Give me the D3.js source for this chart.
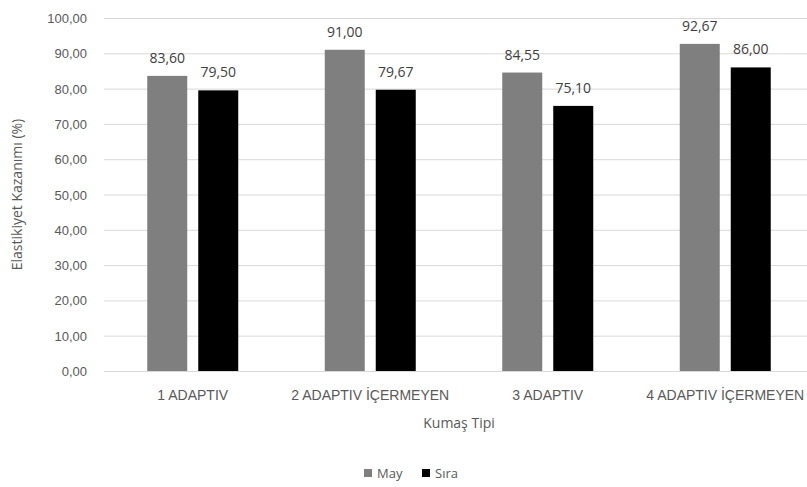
<!DOCTYPE html>
<html>
<head>
<meta charset="utf-8">
<script src="https://cdn.jsdelivr.net/npm/d3@7/dist/d3.min.js"></script>
<style>
  html, body { margin: 0; padding: 0; background: #fff; }
  svg { display: block; font-family: "Open Sans", "Liberation Sans", sans-serif; }
</style>
</head>
<body>
<svg id="chart" width="807" height="487"></svg>
<script>
// Kumaş tipine göre elastikiyet kazanımı
const categories = ["1 ADAPTIV", "2 ADAPTIV İÇERMEYEN", "3 ADAPTIV", "4 ADAPTIV İÇERMEYEN"];
const seriesNames = ["May", "Sıra"];
const mayValues = [83.60, 91.00, 84.55, 92.67];
const siraValues = [79.50, 79.67, 75.10, 86.00];
const yTicks = [0, 10, 20, 30, 40, 50, 60, 70, 80, 90, 100];
const colors = ["#7f7f7f", "#000000"];

const fmt = v => v.toFixed(2).replace(".", ",");

const svg = d3.select("#chart");
const plotLeft = 104, plotRight = 814, plotTop = 18, plotBottom = 371;

const x0 = d3.scaleBand().domain(categories).range([plotLeft, plotRight]).padding(0);
const groupW = 91;
const off = (x0.bandwidth() - groupW) / 2;
const x1 = d3.scaleBand().domain(seriesNames).range([off, off + groupW]).paddingInner(11 / 51).paddingOuter(0);
const y = d3.scaleLinear().domain([0, 100]).range([plotBottom, plotTop]);

// grid lines
svg.append("g").selectAll("line").data(yTicks).join("line")
  .attr("x1", plotLeft).attr("x2", 807)
  .attr("y1", d => y(d) + 0.5).attr("y2", d => y(d) + 0.5)
  .attr("stroke", "#d9d9d9").attr("stroke-width", 1);

// y axis labels
const yAxis = d3.axisLeft(y).tickValues(yTicks).tickFormat(fmt).tickSize(0).tickPadding(0);
const gy = svg.append("g").attr("transform", `translate(87,0)`).call(yAxis);
gy.select(".domain").remove();
gy.selectAll("text").attr("fill", "#595959").style("font-size", "13px").attr("dy", "0.35em");

// bars
const data = categories.map((c, i) => ({ cat: c, vals: [mayValues[i], siraValues[i]] }));
const groups = svg.append("g").selectAll("g").data(data).join("g")
  .attr("transform", d => `translate(${x0(d.cat)},0)`);

groups.selectAll("rect").data(d => d.vals.map((v, j) => ({ s: seriesNames[j], v, j })))
  .join("rect")
  .attr("x", d => x1(d.s))
  .attr("width", x1.bandwidth())
  .attr("y", d => y(d.v))
  .attr("height", d => y(0) - y(d.v))
  .attr("fill", d => colors[d.j]);

groups.selectAll("text").data(d => d.vals.map((v, j) => ({ s: seriesNames[j], v, j })))
  .join("text")
  .attr("x", d => x1(d.s) + x1.bandwidth() / 2)
  .attr("y", d => y(d.v) - 13)
  .attr("text-anchor", "middle")
  .attr("fill", "#404040")
  .style("font-size", "14px")
  .text(d => fmt(d.v));

// x axis labels
const xAxis = d3.axisBottom(x0).tickSize(0).tickPadding(0);
const gx = svg.append("g").attr("transform", `translate(0,${plotBottom})`).call(xAxis);
gx.select(".domain").remove();
gx.selectAll("text").attr("fill", "#595959").style("font-size", "14px").attr("dy", "0").attr("y", 29);

// axis titles
svg.append("text")
  .attr("x", (plotLeft + plotRight) / 2).attr("y", 428)
  .attr("text-anchor", "middle").attr("fill", "#595959").style("font-size", "14px")
  .text("Kumaş Tipi");

svg.append("text")
  .attr("transform", `translate(22,${(plotTop + plotBottom) / 2}) rotate(-90)`)
  .attr("text-anchor", "middle").attr("fill", "#595959").style("font-size", "14px")
  .text("Elastikiyet Kazanımı (%)");

// legend
const legend = svg.append("g").attr("transform", "translate(364,478)");
const legendX = [0, 58];
seriesNames.forEach((s, i) => {
  const g = legend.append("g").attr("transform", `translate(${legendX[i]},0)`);
  g.append("rect").attr("x", 0).attr("y", -9).attr("width", 8).attr("height", 8).attr("fill", colors[i]);
  g.append("text").attr("x", 13).attr("y", 0).attr("fill", "#595959").style("font-size", "13px").text(s);
});
</script>
</body>
</html>
